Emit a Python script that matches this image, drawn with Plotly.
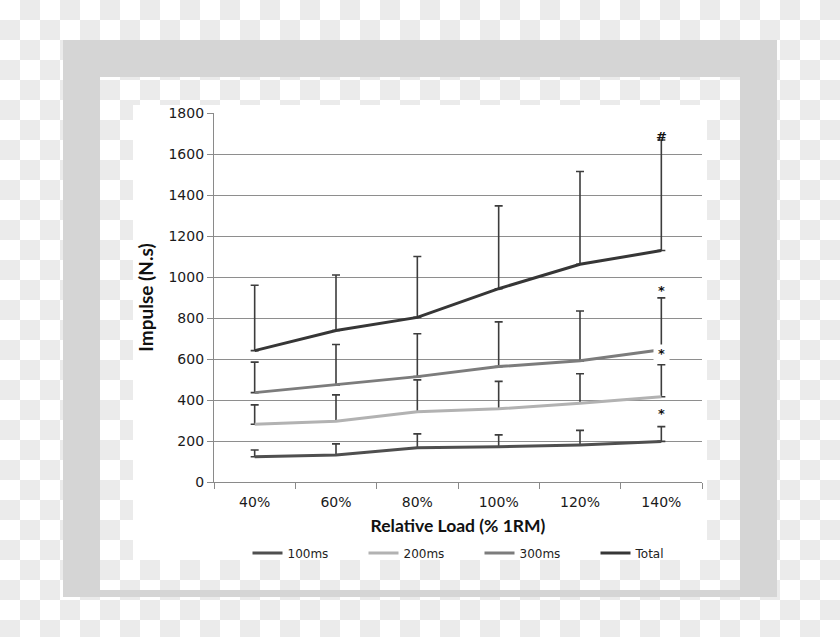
import plotly.graph_objects as go

# ---------------- data ----------------
categories = ["40%", "60%", "80%", "100%", "120%", "140%"]

ms100_mean = [123, 132, 167, 172, 181, 198]
ms100_upper = [156, 186, 235, 230, 252, 270]

ms200_mean = [282, 296, 343, 357, 384, 416]
ms200_upper = [376, 425, 498, 491, 528, 572]

ms300_mean = [436, 474, 514, 563, 591, 645]
ms300_upper = [585, 671, 723, 781, 834, 898]

total_mean = [641, 739, 803, 943, 1062, 1129]
total_upper = [960, 1010, 1100, 1347, 1515, 1668]

y_ticks = [0, 200, 400, 600, 800, 1000, 1200, 1400, 1600, 1800]

# significance markers
marker_cat = ["140%", "140%", "140%", "140%"]
marker_y = [1685, 935, 629, 333]
marker_text = ["#", "*", "*", "*"]
marker_bg = [False, False, True, False]

# ---------------- layout geometry (pixels) ----------------
FIG_W, FIG_H = 840, 637
L, R, T, B = 214, 702, 113, 482
PW, PH = R - L, B - T


def px(x):
    return (x - L) / PW


def py(y):
    return (B - y) / PH


fig = go.Figure()

series = [
    ("100ms", ms100_mean, ms100_upper, "#4f4f4f"),
    ("200ms", ms200_mean, ms200_upper, "#b2b2b2"),
    ("300ms", ms300_mean, ms300_upper, "#7c7c7c"),
    ("Total", total_mean, total_upper, "#363636"),
]

for name, mean, upper, color in series:
    err = [u - m for u, m in zip(upper, mean)]
    fig.add_trace(go.Scatter(
        x=categories, y=mean, name=name, mode="lines",
        line=dict(color=color, width=3),
        error_y=dict(type="data", symmetric=False, array=err,
                     arrayminus=[0] * len(err), color="#3d3d3d",
                     thickness=1.6, width=4),
    ))

for c, yv, t, bg in zip(marker_cat, marker_y, marker_text, marker_bg):
    fig.add_annotation(
        x=c, y=yv, text="<b>%s</b>" % t, showarrow=False,
        font=dict(family="DejaVu Sans", size=13, color="#111111"),
        bgcolor="white" if bg else "rgba(0,0,0,0)",
        width=15, height=17, borderpad=0,
    )

# ---------------- background decoration ----------------
shapes = []
sq = 20
path = []
for j in range(0, (FIG_H // sq) + 1):
    for i in range(0, (FIG_W // sq) + 1):
        if (i + j) % 2 == 1:
            x0, x1 = i * sq, min((i + 1) * sq, FIG_W)
            y0, y1 = j * sq, min((j + 1) * sq, FIG_H)
            if x0 >= FIG_W or y0 >= FIG_H:
                continue
            path.append("M%.5f,%.5fL%.5f,%.5fL%.5f,%.5fL%.5f,%.5fZ" % (
                px(x0), py(y0), px(x1), py(y0), px(x1), py(y1), px(x0), py(y1)))
shapes.append(dict(type="path", xref="paper", yref="paper", path="".join(path),
                   fillcolor="#ebebeb", line=dict(width=0), layer="below"))

frame_col = "#d5d5d5"
fo = (63, 40, 777, 597)   # outer
fi = (100, 77, 740, 590)  # inner
for (a, b, c, d) in [
    (fo[0], fo[1], fo[2], fi[1]),
    (fo[0], fi[3], fo[2], fo[3]),
    (fo[0], fi[1], fi[0], fi[3]),
    (fi[2], fi[1], fo[2], fi[3]),
]:
    shapes.append(dict(type="rect", xref="paper", yref="paper",
                       x0=px(a), x1=px(c), y0=py(b), y1=py(d),
                       fillcolor=frame_col, line=dict(width=0), layer="below"))

shapes.append(dict(type="rect", xref="paper", yref="paper",
                   x0=px(133), x1=px(707), y0=py(105), y1=py(560),
                   fillcolor="white", line=dict(width=0), layer="below"))

fig.update_layout(
    width=FIG_W, height=FIG_H,
    margin=dict(l=L, r=FIG_W - R, t=T, b=FIG_H - B, pad=0),
    paper_bgcolor="white", plot_bgcolor="white",
    shapes=shapes,
    showlegend=True,
    legend=dict(orientation="h", x=px(247.5), xanchor="left", y=py(553),
                yanchor="middle", font=dict(family="DejaVu Sans", size=12,
                                            color="#222222"),
                entrywidth=71, entrywidthmode="pixels",
                bgcolor="rgba(0,0,0,0)", borderwidth=0, traceorder="normal"),
    font=dict(family="DejaVu Sans", color="#1a1a1a"),
)

fig.update_xaxes(
    type="category", range=[-0.5, 5.5], showgrid=False,
    showline=True, linecolor="#8a8a8a", linewidth=1.2,
    ticks="outside", tickson="boundaries", ticklen=6, tickcolor="#8a8a8a",
    ticklabelstandoff=7,
    tickfont=dict(family="DejaVu Sans", size=14, color="#1a1a1a"),
    title=dict(text="<b>Relative Load (% 1RM)</b>", standoff=10,
               font=dict(family="Lato", size=17.5, color="#111111")),
    fixedrange=True,
)
fig.update_yaxes(
    range=[0, 1800], tickvals=y_ticks, showgrid=True, gridcolor="#8e8e8e",
    gridwidth=1, zeroline=False,
    showline=True, linecolor="#8a8a8a", linewidth=1.2,
    ticks="outside", ticklen=6, tickcolor="#8a8a8a",
    tickfont=dict(family="DejaVu Sans", size=14, color="#1a1a1a"),
    title=dict(text="<b>Impulse (N.s)</b>", standoff=9,
               font=dict(family="Lato", size=19, color="#111111")),
    fixedrange=True,
)

fig.write_html(
    "out.html",
    config={"displayModeBar": False},
    post_script="document.body.style.margin='0';document.body.style.padding='0';",
)
